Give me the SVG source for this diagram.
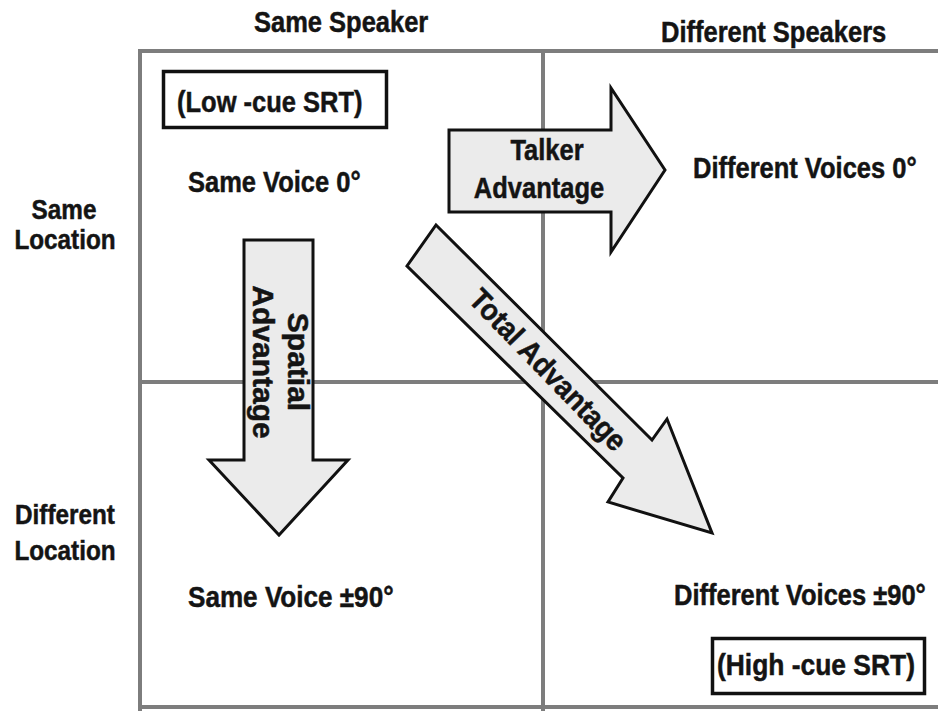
<svg xmlns="http://www.w3.org/2000/svg" width="938" height="711" viewBox="0 0 938 711">
<style>
text{font-family:"Liberation Sans",Arial,sans-serif;font-weight:bold;font-size:30px;fill:#141414;stroke:#141414;stroke-width:0.5}
.sm{font-size:27px}
.grid{stroke:#7d7d7d;stroke-width:4;fill:none}
.box{fill:none;stroke:#111;stroke-width:3.5}
.arrow{fill:#ebebeb;stroke:#111;stroke-width:3;stroke-linejoin:miter}
.mid{text-anchor:middle}
</style>
<rect width="938" height="711" fill="#ffffff"/>
<g id="grid">
<line class="grid" x1="138" y1="51" x2="938" y2="51"/>
<line class="grid" x1="140" y1="49" x2="140" y2="711"/>
<line class="grid" x1="543" y1="51" x2="543" y2="711"/>
<line class="grid" x1="140" y1="382" x2="938" y2="382"/>
<line class="grid" x1="138" y1="707" x2="938" y2="707"/>
</g>
<g id="headers">
<text transform="translate(254,32) scale(0.85,1)">Same Speaker</text>
<text transform="translate(661,42) scale(0.85,1)">Different Speakers</text>
<text class="mid sm" transform="translate(64,219) scale(0.9,1)">Same</text>
<text class="mid sm" transform="translate(65,249) scale(0.9,1)">Location</text>
<text class="mid sm" transform="translate(65,524) scale(0.9,1)">Different</text>
<text class="mid sm" transform="translate(65,560) scale(0.9,1)">Location</text>
</g>
<g id="node-same-voice-0">
<rect class="box" x="163.5" y="71.5" width="223" height="56"/>
<text transform="translate(177,112) scale(0.85,1)">(Low -cue SRT)</text>
<text transform="translate(188,192) scale(0.85,1)">Same Voice 0°</text>
</g>
<g id="node-different-voices-0">
<text transform="translate(693,178) scale(0.85,1)">Different Voices 0°</text>
</g>
<g id="node-same-voice-90">
<text transform="translate(188,607) scale(0.87,1)">Same Voice ±90°</text>
</g>
<g id="node-different-voices-90">
<text transform="translate(674,605) scale(0.85,1)">Different Voices ±90°</text>
<rect class="box" x="712.5" y="638.5" width="212" height="55"/>
<text transform="translate(717,675) scale(0.88,1)">(High -cue SRT)</text>
</g>
<g id="connectors">
<g id="talker-advantage">
<polygon class="arrow" points="449,130 611,130 611,88 665,170 611,252 611,212 449,212"/>
<text class="mid" transform="translate(547,160) scale(0.85,1)">Talker</text>
<text class="mid" transform="translate(539,198) scale(0.85,1)">Advantage</text>
</g>
<g id="spatial-advantage">
<polygon class="arrow" points="244,240 313,240 313,460 348,460 279,535 209,460 244,460"/>
<g transform="translate(270,362) rotate(90)">
<text x="0" y="-18" class="mid">Spatial</text>
<text x="0" y="17" class="mid">Advantage</text>
</g>
</g>
<g id="total-advantage">
<polygon class="arrow" points="436,225 652,440 667,419 712,533 608,502 623,478 407,266"/>
<g transform="translate(548,370) rotate(46) scale(0.92,1)">
<text x="0" y="10" class="mid">Total Advantage</text>
</g>
</g>
</g>
</svg>
